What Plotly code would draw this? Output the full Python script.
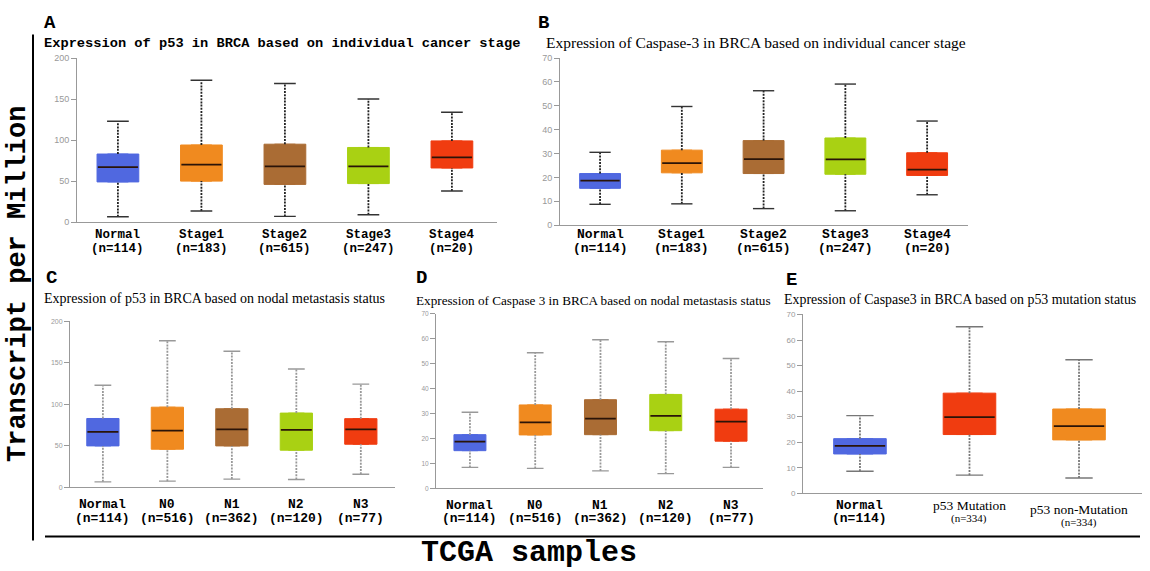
import plotly.graph_objects as go

W, H = 1150, 571

# ---------------- data ----------------
# Panel A: p53 by cancer stage
a_cats = ["Normal", "Stage1", "Stage2", "Stage3", "Stage4"]
a_n = ["(n=114)", "(n=183)", "(n=615)", "(n=247)", "(n=20)"]
a_low = [6.5, 13.5, 7, 9, 38]
a_q1 = [49, 50, 46, 47, 66]
a_med = [67, 70, 68, 68, 79]
a_q3 = [83, 94, 95, 91, 99]
a_high = [123, 173, 169, 150, 134]

# Panel B: Caspase-3 by cancer stage
b_cats = ["Normal", "Stage1", "Stage2", "Stage3", "Stage4"]
b_n = ["(n=114)", "(n=183)", "(n=615)", "(n=247)", "(n=20)"]
b_low = [8.7, 8.9, 6.9, 6.0, 12.7]
b_q1 = [15.4, 21.9, 21.6, 21.3, 20.8]
b_med = [18.6, 26.0, 27.6, 27.5, 23.2]
b_q3 = [21.6, 31.4, 35.4, 36.5, 30.3]
b_high = [30.5, 49.7, 56.3, 59.1, 43.6]

# Panel C: p53 by nodal status
c_cats = ["Normal", "N0", "N1", "N2", "N3"]
c_n = ["(n=114)", "(n=516)", "(n=362)", "(n=120)", "(n=77)"]
c_low = [6.7, 7.5, 10, 9.5, 15.8]
c_q1 = [50, 46, 50, 44.8, 52]
c_med = [67, 68.5, 70, 69.3, 70]
c_q3 = [83, 96.6, 94.7, 89.5, 82.8]
c_high = [123, 176.6, 164, 142.6, 124.4]

# Panel D: Caspase 3 by nodal status
d_cats = ["Normal", "N0", "N1", "N2", "N3"]
d_n = ["(n=114)", "(n=516)", "(n=362)", "(n=120)", "(n=77)"]
d_low = [8.4, 8.0, 7.0, 5.9, 8.4]
d_q1 = [15.1, 21.4, 21.5, 23.1, 18.9]
d_med = [18.7, 26.4, 27.9, 29.0, 26.7]
d_q3 = [21.5, 33.4, 35.5, 37.6, 31.7]
d_high = [30.5, 54.3, 59.5, 58.7, 52.0]

# Panel E: Caspase3 by p53 mutation status
e_cats = ["Normal", "p53 Mutation", "p53 non-Mutation"]
e_n = ["(n=114)", "(n=334)", "(n=334)"]
e_low = [8.6, 7.1, 6.0]
e_q1 = [15.4, 23.0, 20.9]
e_med = [18.6, 29.8, 26.3]
e_q3 = [21.4, 39.2, 33.0]
e_high = [30.4, 65.2, 52.3]

# ---------------- styles ----------------
BLUE, ORANGE, BROWN, LIME, RED = "#5068e0", "#f08a1f", "#aa6c34", "#a9d113", "#f03c10"
stage_colors = [BLUE, ORANGE, BROWN, LIME, RED]
e_colors = [BLUE, RED, ORANGE]

MONO = "Courier New, Liberation Mono, monospace"
SERIF = "Liberation Serif, Times New Roman, serif"
SANS = "Arial, Liberation Sans, sans-serif"


def px(x):
    return x / W


def py(y):
    return 1 - y / H


panels = [
    dict(key="A", cats=a_cats, n=a_n, low=a_low, q1=a_q1, med=a_med, q3=a_q3, high=a_high,
         colors=stage_colors, x0=77, x1=497, ytop=54, ybot=221, ymax=200, dtick=50,
         lpad=0.49, rpad=0.54, bw=0.5, tick=9, wcol="#222", ccol="#333",
         lab1=234, lab2=248, labsize=12.5,
         title="Expression of p53 in BRCA based on individual cancer stage",
         tfont=dict(family=MONO, size=13.7, color="black"), tbold=True, tx=43, ty=39,
         lx=43, ly=18),
    dict(key="B", cats=b_cats, n=b_n, low=b_low, q1=b_q1, med=b_med, q3=b_q3, high=b_high,
         colors=stage_colors, x0=560, x1=968, ytop=54, ybot=224, ymax=70, dtick=10,
         lpad=0.49, rpad=0.5, bw=0.5, tick=9, wcol="#222", ccol="#333",
         lab1=234, lab2=248, labsize=13,
         title="Expression of Caspase-3 in BRCA based on individual cancer stage",
         tfont=dict(family=SERIF, size=15.5, color="black"), tbold=False, tx=545, ty=38,
         lx=537, ly=18),
    dict(key="C", cats=c_cats, n=c_n, low=c_low, q1=c_q1, med=c_med, q3=c_q3, high=c_high,
         colors=stage_colors, x0=70, x1=395, ytop=322, ybot=491, ymax=200, dtick=50,
         lpad=0.51, rpad=0.53, bw=0.5, tick=7, wcol="#999", ccol="#999",
         lab1=508, lab2=523, labsize=13,
         title="Expression of p53 in BRCA based on nodal metastasis status",
         tfont=dict(family=SERIF, size=14, color="black"), tbold=False, tx=43, ty=299,
         lx=45, ly=278),
    dict(key="D", cats=d_cats, n=d_n, low=d_low, q1=d_q1, med=d_med, q3=d_q3, high=d_high,
         colors=stage_colors, x0=436, x1=763, ytop=314, ybot=492, ymax=70, dtick=10,
         lpad=0.52, rpad=0.49, bw=0.49, tick=6.5, wcol="#999", ccol="#999",
         lab1=509, lab2=523, labsize=13,
         title="Expression of Caspase 3 in BRCA based on nodal metastasis status",
         tfont=dict(family=SERIF, size=13.2, color="black"), tbold=False, tx=415, ty=301,
         lx=415, ly=278),
    dict(key="E", cats=e_cats, n=e_n, low=e_low, q1=e_q1, med=e_med, q3=e_q3, high=e_high,
         colors=e_colors, x0=803, x1=1142, ytop=315, ybot=497, ymax=70, dtick=10,
         lpad=0.52, rpad=0.575, bw=0.48, tick=8, wcol="#777", ccol="#777",
         lab1=509, lab2=523, labsize=13,
         title="Expression of Caspase3 in BRCA based on p53 mutation status",
         tfont=dict(family=SERIF, size=13.9, color="black"), tbold=False, tx=783, ty=300,
         lx=785, ly=280),
]

fig = go.Figure()
annotations = []
layout_axes = {}

for k, p in enumerate(panels, start=1):
    xa = "x" if k == 1 else f"x{k}"
    ya = "y" if k == 1 else f"y{k}"
    xs = list(range(len(p["cats"])))
    bw = p["bw"]
    cw = bw * 0.26

    # whiskers (dotted) and caps
    wx, wy, cx, cy = [], [], [], []
    for i in xs:
        wx += [i, i, None, i, i, None]
        wy += [p["low"][i], p["q1"][i], None, p["q3"][i], p["high"][i], None]
        cx += [i - cw, i + cw, None, i - cw, i + cw, None]
        cy += [p["low"][i], p["low"][i], None, p["high"][i], p["high"][i], None]
    fig.add_trace(go.Scatter(x=wx, y=wy, mode="lines", xaxis=xa, yaxis=ya,
                             line=dict(color=p["wcol"], width=1.8, dash="2px,1.2px"),
                             hoverinfo="skip", showlegend=False))
    fig.add_trace(go.Scatter(x=cx, y=cy, mode="lines", xaxis=xa, yaxis=ya,
                             line=dict(color=p["ccol"], width=1.4),
                             hoverinfo="skip", showlegend=False))

    # boxes
    for i in xs:
        c = p["colors"][i]
        fig.add_trace(go.Box(x=[i], q1=[p["q1"][i]], median=[p["med"][i]], q3=[p["q3"][i]],
                             lowerfence=[p["q1"][i]], upperfence=[p["q3"][i]],
                             width=bw, fillcolor=c, line=dict(color=c, width=1),
                             boxpoints=False, xaxis=xa, yaxis=ya,
                             name=p["cats"][i], showlegend=False))
    # medians
    mx, my = [], []
    for i in xs:
        mx += [i - bw / 2 + 0.01, i + bw / 2 - 0.01, None]
        my += [p["med"][i], p["med"][i], None]
    fig.add_trace(go.Scatter(x=mx, y=my, mode="lines", xaxis=xa, yaxis=ya,
                             line=dict(color="#2a1408", width=1.8),
                             hoverinfo="skip", showlegend=False))

    xname = "xaxis" if k == 1 else f"xaxis{k}"
    yname = "yaxis" if k == 1 else f"yaxis{k}"
    layout_axes[xname] = dict(domain=[px(p["x0"]), px(p["x1"])], anchor=ya,
                              range=[-p["lpad"], len(xs) - 1 + p["rpad"]],
                              showline=True, linecolor="#999", linewidth=1,
                              showgrid=False, zeroline=False, showticklabels=False,
                              ticks="", fixedrange=True)
    layout_axes[yname] = dict(domain=[py(p["ybot"]), py(p["ytop"])], anchor=xa,
                              range=[0, p["ymax"]], dtick=p["dtick"], tick0=0,
                              showline=True, linecolor="#999", linewidth=1,
                              ticks="outside", ticklen=5, tickcolor="#999", tickwidth=1,
                              tickfont=dict(family=SANS, size=p["tick"], color="#999"),
                              showgrid=False, zeroline=False, fixedrange=True)

    # panel letter
    annotations.append(dict(text="<b>" + p["key"] + "</b>", xref="paper", yref="paper",
                            x=px(p["lx"]), y=py(p["ly"]), xanchor="left", yanchor="middle",
                            showarrow=False, borderpad=0,
                            font=dict(family=MONO, size=19, color="black")))
    # title
    ttxt = "<b>" + p["title"] + "</b>" if p["tbold"] else p["title"]
    annotations.append(dict(text=ttxt, xref="paper", yref="paper",
                            x=px(p["tx"]), y=py(p["ty"]), xanchor="left", yanchor="middle",
                            showarrow=False, borderpad=0, font=p["tfont"]))
    # category labels
    for i in xs:
        if p["key"] == "E" and i > 0:
            y1 = p["lab1"] + (0 if i == 1 else 4)
            y2 = p["lab2"] + (0 if i == 1 else 4)
            annotations.append(dict(text=p["cats"][i], xref=xa, yref="paper",
                                    x=i, y=py(y1), xanchor="center", yanchor="middle",
                                    showarrow=False,
                                    font=dict(family=SERIF, size=13.5, color="black")))
            annotations.append(dict(text=p["n"][i], xref=xa, yref="paper",
                                    x=i, y=py(y2), xanchor="center", yanchor="middle",
                                    showarrow=False,
                                    font=dict(family=SERIF, size=11, color="black")))
        else:
            annotations.append(dict(text="<b>" + p["cats"][i] + "</b>", xref=xa, yref="paper",
                                    x=i, y=py(p["lab1"]), xanchor="center", yanchor="middle",
                                    showarrow=False,
                                    font=dict(family=MONO, size=p["labsize"], color="black")))
            annotations.append(dict(text="<b>" + p["n"][i] + "</b>", xref=xa, yref="paper",
                                    x=i, y=py(p["lab2"]), xanchor="center", yanchor="middle",
                                    showarrow=False,
                                    font=dict(family=MONO, size=p["labsize"], color="black")))

# shared axis titles
annotations.append(dict(text="<b>Transcript per Million</b>", xref="paper", yref="paper",
                        x=px(18), y=py(284), xanchor="center", yanchor="middle",
                        textangle=-90, showarrow=False,
                        font=dict(family=MONO, size=27, color="black")))
annotations.append(dict(text="<b>TCGA samples</b>", xref="paper", yref="paper",
                        x=px(529), y=py(558), xanchor="center", yanchor="middle",
                        showarrow=False,
                        font=dict(family=MONO, size=30, color="black")))

shapes = [
    dict(type="line", xref="paper", yref="paper", x0=px(33), x1=px(33), y0=py(30), y1=py(545),
         line=dict(color="black", width=2)),
    dict(type="line", xref="paper", yref="paper", x0=px(45), x1=px(1140), y0=py(541), y1=py(541),
         line=dict(color="black", width=2)),
]

fig.update_layout(width=W, height=H, margin=dict(l=0, r=0, t=0, b=0),
                  paper_bgcolor="white", plot_bgcolor="white",
                  showlegend=False, annotations=annotations, shapes=shapes,
                  boxmode="overlay", **layout_axes)

fig.write_html("out.html")
